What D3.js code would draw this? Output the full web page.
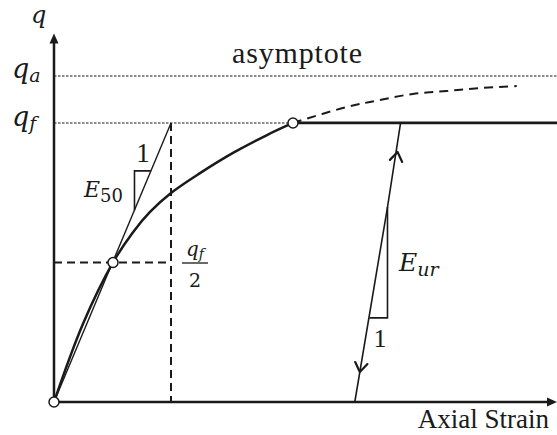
<!DOCTYPE html>
<html>
<head>
<meta charset="utf-8">
<script src="https://cdn.jsdelivr.net/npm/d3@7"></script>
<style>
    body { margin: 0; background: #fff; }
    svg { display: block; }
    .math { font-family: 'DejaVu Serif', serif; font-style: italic; }
    .num { font-family: 'DejaVu Serif', serif; }
    .txt { font-family: 'Liberation Serif', 'Times New Roman', serif; }
</style>
</head>
<body>
<div id="chart"></div>
<script>
// values (strain in arbitrary units, q with qa = 100)
const qa = 100;
const qf = 85.6;
const curveStrain = [0, 5.77, 11.73, 15.71, 19.09, 23.26, 29.03, 35.59, 42.35, 47.51];
const curveQ = [0, 24.0, 42.8, 52.1, 58.3, 64.1, 70.2, 76.4, 81.9, 85.6];
const asymStrain = [47.51, 58.2, 64.7, 71.3, 78.1, 84.7, 92.0];
const asymQ = [85.6, 90.5, 92.6, 94.5, 95.4, 96.3, 96.9];
const e50Strain = 23.26;          // secant reaches qf here
const e50Tri = [[16, 58.8], [16, 70.9], [19.3, 70.9]];
const urStrain = [59.8, 66.3, 68.9];
const urQ = [0, 59.8, 85.6];
const urTri = [[66.3, 59.8], [66.3, 25.8], [62.7, 25.8]];
const urArrowUp = [68.3, 76.7];
const urArrowDown = [60.8, 9.2];
const strainMax = 100;
const qTop = 113;

function main() {
    // set dimensions
    const w = 557;
    const h = 435;
    const ink = '#1a1a1a';

    const x_scale = d3.scaleLinear().domain([0, strainMax]).range([54, 557]);
    const y_scale = d3.scaleLinear().domain([0, qa]).range([402, 76]);

    const svg = d3.select('#chart')
        .append('svg')
        .attr('width', w)
        .attr('height', h);

    const line = d3.line()
        .x(d => x_scale(d[0]))
        .y(d => y_scale(d[1]));
    const smooth = d3.line()
        .x(d => x_scale(d[0]))
        .y(d => y_scale(d[1]))
        .curve(d3.curveCatmullRom.alpha(0.5));

    // dotted reference lines
    svg.append('line')
        .attr('x1', x_scale(0)).attr('x2', x_scale(strainMax))
        .attr('y1', y_scale(qa)).attr('y2', y_scale(qa))
        .attr('stroke', ink).attr('stroke-width', 1.1)
        .attr('stroke-dasharray', '2.5,1.5');
    svg.append('line')
        .attr('x1', x_scale(0)).attr('x2', x_scale(curveStrain[curveStrain.length - 1]))
        .attr('y1', y_scale(qf)).attr('y2', y_scale(qf))
        .attr('stroke', ink).attr('stroke-width', 1.1)
        .attr('stroke-dasharray', '2.5,1.5');

    // dashed qf/2 guides
    svg.append('line')
        .attr('x1', x_scale(0)).attr('x2', x_scale(e50Strain))
        .attr('y1', y_scale(qf / 2)).attr('y2', y_scale(qf / 2))
        .attr('stroke', ink).attr('stroke-width', 2)
        .attr('stroke-dasharray', '8,5');
    svg.append('line')
        .attr('x1', x_scale(e50Strain)).attr('x2', x_scale(e50Strain))
        .attr('y1', y_scale(qf)).attr('y2', y_scale(0))
        .attr('stroke', ink).attr('stroke-width', 2)
        .attr('stroke-dasharray', '8,5');

    // axes
    svg.append('line')
        .attr('x1', x_scale(0)).attr('x2', x_scale(0))
        .attr('y1', y_scale(0)).attr('y2', y_scale(qTop) + 6)
        .attr('stroke', ink).attr('stroke-width', 2.5);
    svg.append('path')
        .attr('d', d3.line()([[x_scale(0), y_scale(qTop)], [x_scale(0) - 4.5, y_scale(qTop) + 10], [x_scale(0) + 4.5, y_scale(qTop) + 10]]) + 'Z')
        .attr('fill', ink);
    svg.append('line')
        .attr('x1', x_scale(0)).attr('x2', x_scale(strainMax) - 6)
        .attr('y1', y_scale(0)).attr('y2', y_scale(0))
        .attr('stroke', ink).attr('stroke-width', 2.5);
    svg.append('path')
        .attr('d', d3.line()([[x_scale(strainMax), y_scale(0)], [x_scale(strainMax) - 10, y_scale(0) - 4.5], [x_scale(strainMax) - 10, y_scale(0) + 4.5]]) + 'Z')
        .attr('fill', ink);

    // E50 secant and triangle
    svg.append('path')
        .attr('d', line([[0, 0], [e50Strain, qf]]))
        .attr('fill', 'none').attr('stroke', ink).attr('stroke-width', 1.4);
    svg.append('path')
        .attr('d', line(e50Tri))
        .attr('fill', 'none').attr('stroke', ink).attr('stroke-width', 1.6);

    // hyperbolic curve
    const curvePts = curveStrain.map((s, i) => [s, curveQ[i]]);
    svg.append('path')
        .attr('d', smooth(curvePts))
        .attr('fill', 'none').attr('stroke', ink).attr('stroke-width', 2.5);

    // asymptotic continuation
    const asymPts = asymStrain.map((s, i) => [s, asymQ[i]]);
    svg.append('path')
        .attr('d', smooth(asymPts))
        .attr('fill', 'none').attr('stroke', ink).attr('stroke-width', 2)
        .attr('stroke-dasharray', '9,6');

    // failure line
    svg.append('line')
        .attr('x1', x_scale(curveStrain[curveStrain.length - 1])).attr('x2', x_scale(strainMax))
        .attr('y1', y_scale(qf)).attr('y2', y_scale(qf))
        .attr('stroke', ink).attr('stroke-width', 2.8);

    // unloading / reloading
    svg.append('path')
        .attr('d', line(urStrain.map((s, i) => [s, urQ[i]])))
        .attr('fill', 'none').attr('stroke', ink).attr('stroke-width', 1.6);
    svg.append('path')
        .attr('d', line(urTri))
        .attr('fill', 'none').attr('stroke', ink).attr('stroke-width', 1.6);

    function chevron(p, dir) {
        const tx = x_scale(p[0]), ty = y_scale(p[1]);
        // direction along the line
        const ang = Math.atan2(y_scale(urQ[1]) - y_scale(urQ[0]), x_scale(urStrain[1]) - x_scale(urStrain[0]));
        const a = dir > 0 ? ang : ang + Math.PI;
        const len = 11, spread = 0.6;
        const b1 = [tx - len * Math.cos(a - spread), ty - len * Math.sin(a - spread)];
        const b2 = [tx - len * Math.cos(a + spread), ty - len * Math.sin(a + spread)];
        svg.append('path')
            .attr('d', d3.line()([b1, [tx, ty], b2]))
            .attr('fill', 'none').attr('stroke', ink).attr('stroke-width', 2.2)
            .attr('stroke-linecap', 'round').attr('stroke-linejoin', 'round');
    }
    chevron(urArrowUp, 1);
    chevron(urArrowDown, -1);

    // markers
    svg.selectAll('circle.pt')
        .data([[0, 0], [curveStrain[2], curveQ[2]], [curveStrain[curveStrain.length - 1], qf]])
        .enter()
        .append('circle')
        .attr('class', 'pt')
        .attr('cx', d => x_scale(d[0]))
        .attr('cy', d => y_scale(d[1]))
        .attr('r', 5)
        .attr('fill', '#fff')
        .attr('stroke', ink)
        .attr('stroke-width', 1.5);

    // labels
    svg.append('text').attr('class', 'math')
        .attr('x', 31).attr('y', 23).attr('font-size', 24).attr('fill', ink).text('q');

    const qaLab = svg.append('text').attr('class', 'math')
        .attr('x', 12).attr('y', y_scale(qa) + 2).attr('font-size', 27).attr('fill', ink);
    qaLab.append('tspan').text('q');
    qaLab.append('tspan').attr('font-size', 19).attr('dy', 4).text('a');

    const qfLab = svg.append('text').attr('class', 'math')
        .attr('x', 12).attr('y', y_scale(qf) + 3).attr('font-size', 27).attr('fill', ink);
    qfLab.append('tspan').text('q');
    qfLab.append('tspan').attr('font-size', 19).attr('dy', 4).text('f');

    svg.append('text').attr('class', 'txt')
        .attr('x', 232).attr('y', 63).attr('font-size', 30).attr('fill', ink)
        .attr('textLength', 130).text('asymptote');

    const e50Lab = svg.append('text').attr('class', 'math')
        .attr('x', 84).attr('y', 197).attr('font-size', 22).attr('fill', ink);
    e50Lab.append('tspan').text('E');
    e50Lab.append('tspan').attr('class', 'num').attr('font-style', 'normal')
        .attr('font-size', 18).attr('dy', 5).text('50');

    svg.append('text').attr('class', 'txt')
        .attr('x', 143).attr('y', 162).attr('font-size', 27).attr('fill', ink)
        .attr('text-anchor', 'middle').text('1');

    // qf / 2 fraction
    const fx = x_scale(e50Strain) + 24;
    const fracNum = svg.append('text').attr('class', 'math')
        .attr('x', fx).attr('y', 256).attr('font-size', 20).attr('fill', ink)
        .attr('text-anchor', 'middle');
    fracNum.append('tspan').text('q');
    fracNum.append('tspan').attr('font-size', 14).attr('dy', 3).text('f');
    svg.append('line')
        .attr('x1', fx - 13).attr('x2', fx + 13)
        .attr('y1', 263).attr('y2', 263)
        .attr('stroke', ink).attr('stroke-width', 1.3);
    svg.append('text').attr('class', 'num')
        .attr('x', fx).attr('y', 287).attr('font-size', 19).attr('fill', ink)
        .attr('text-anchor', 'middle').text('2');

    const eurLab = svg.append('text').attr('class', 'math')
        .attr('x', 399).attr('y', 271).attr('font-size', 25).attr('fill', ink);
    eurLab.append('tspan').text('E');
    eurLab.append('tspan').attr('font-size', 19).attr('dy', 5).text('ur');

    svg.append('text').attr('class', 'txt')
        .attr('x', 380).attr('y', 347).attr('font-size', 26).attr('fill', ink)
        .attr('text-anchor', 'middle').text('1');

    svg.append('text').attr('class', 'txt')
        .attr('x', 549).attr('y', 428).attr('font-size', 27).attr('fill', ink)
        .attr('text-anchor', 'end').text('Axial Strain');
}

main();
</script>
</body>
</html>
